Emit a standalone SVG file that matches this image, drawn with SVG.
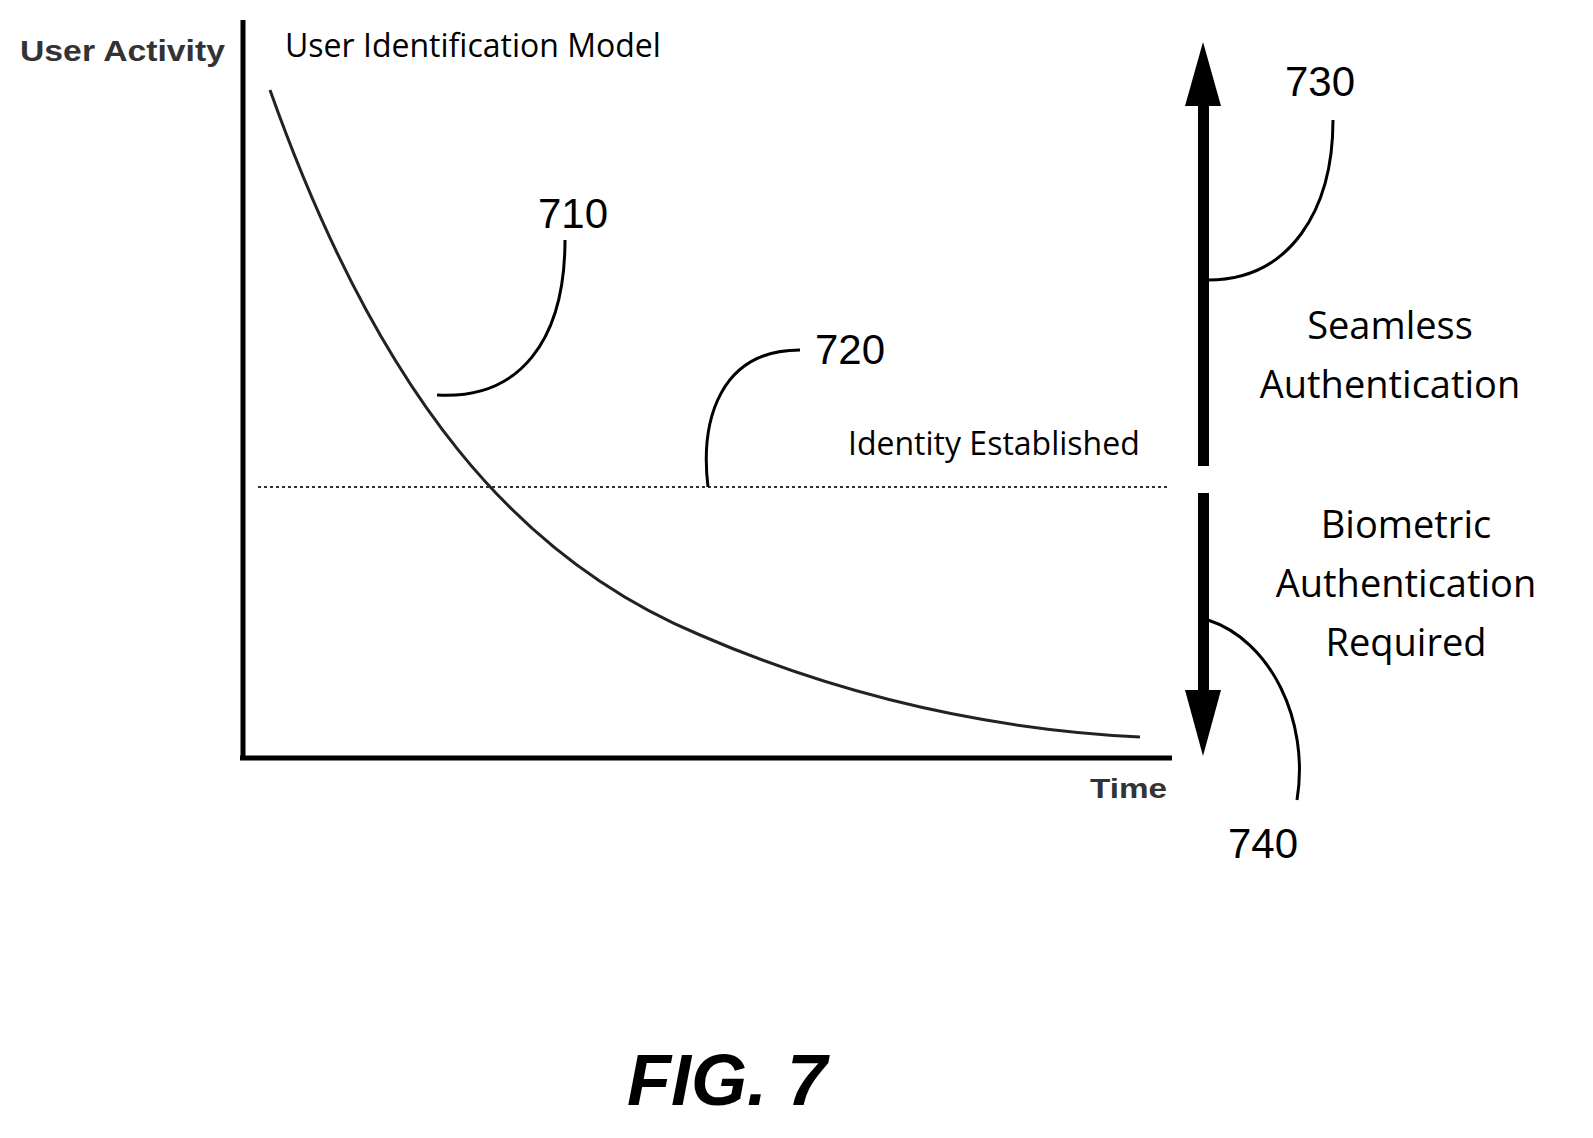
<svg xmlns="http://www.w3.org/2000/svg" width="1593" height="1138" viewBox="0 0 1593 1138">
<style>
.t{font-family:"Open Sans","Liberation Sans",sans-serif;fill:#000}
.b{font-family:"Liberation Sans",Arial,sans-serif;font-weight:bold;fill:#333}
.n{font-family:"Liberation Sans",Arial,sans-serif;font-size:42px;fill:#000}
.ld{fill:none;stroke:#000;stroke-width:3}
</style>
<rect width="1593" height="1138" fill="#fff"/>
<g id="axes" stroke="#000" stroke-width="5" fill="none">
<line x1="243" y1="20" x2="243" y2="760"/>
<line x1="240" y1="758" x2="1172" y2="758"/>
</g>
<text class="b" x="20" y="61" font-size="30" textLength="205" lengthAdjust="spacingAndGlyphs">User Activity</text>
<text class="t" x="285" y="57" font-size="32">User Identification Model</text>
<text class="b" x="1090" y="798" font-size="28" textLength="77" lengthAdjust="spacingAndGlyphs">Time</text>
<g id="curve"><path d="M270,90 C380,400 520,560 700,635 C850,700 1000,730 1140,737" fill="none" stroke="#222" stroke-width="3"/></g>
<g id="threshold"><line x1="258" y1="487" x2="1168" y2="487" stroke="#333" stroke-width="2" stroke-dasharray="3,3"/>
<text class="t" x="848" y="455" font-size="32">Identity Established</text></g>
<g id="arrows" fill="#000">
<rect x="1198" y="100" width="11" height="366"/>
<polygon points="1203,42 1221,106 1185,106"/>
<rect x="1198" y="493" width="11" height="200"/>
<polygon points="1203,756 1221,690 1185,690"/>
</g>
<g id="connectors">
<path class="ld" d="M437,395 C520,400 565,340 565,240"/>
<path class="ld" d="M708,487 C700,420 720,350 800,350"/>
<path class="ld" d="M1208,280 C1290,280 1333,210 1333,120"/>
<path class="ld" d="M1208,620 C1270,640 1310,720 1297,800"/>
</g>
<text class="n" x="538" y="228">710</text>
<text class="n" x="815" y="364">720</text>
<text class="n" x="1285" y="96">730</text>
<text class="n" x="1228" y="858">740</text>
<g class="t" font-size="38" text-anchor="middle">
<text x="1390" y="339">Seamless</text>
<text x="1390" y="398">Authentication</text>
<text x="1406" y="538">Biometric</text>
<text x="1406" y="597">Authentication</text>
<text x="1406" y="656">Required</text>
</g>
<text x="727" y="1105" text-anchor="middle" font-family="Liberation Sans,Arial,sans-serif" font-weight="bold" font-style="italic" font-size="72">FIG. 7</text>
</svg>
